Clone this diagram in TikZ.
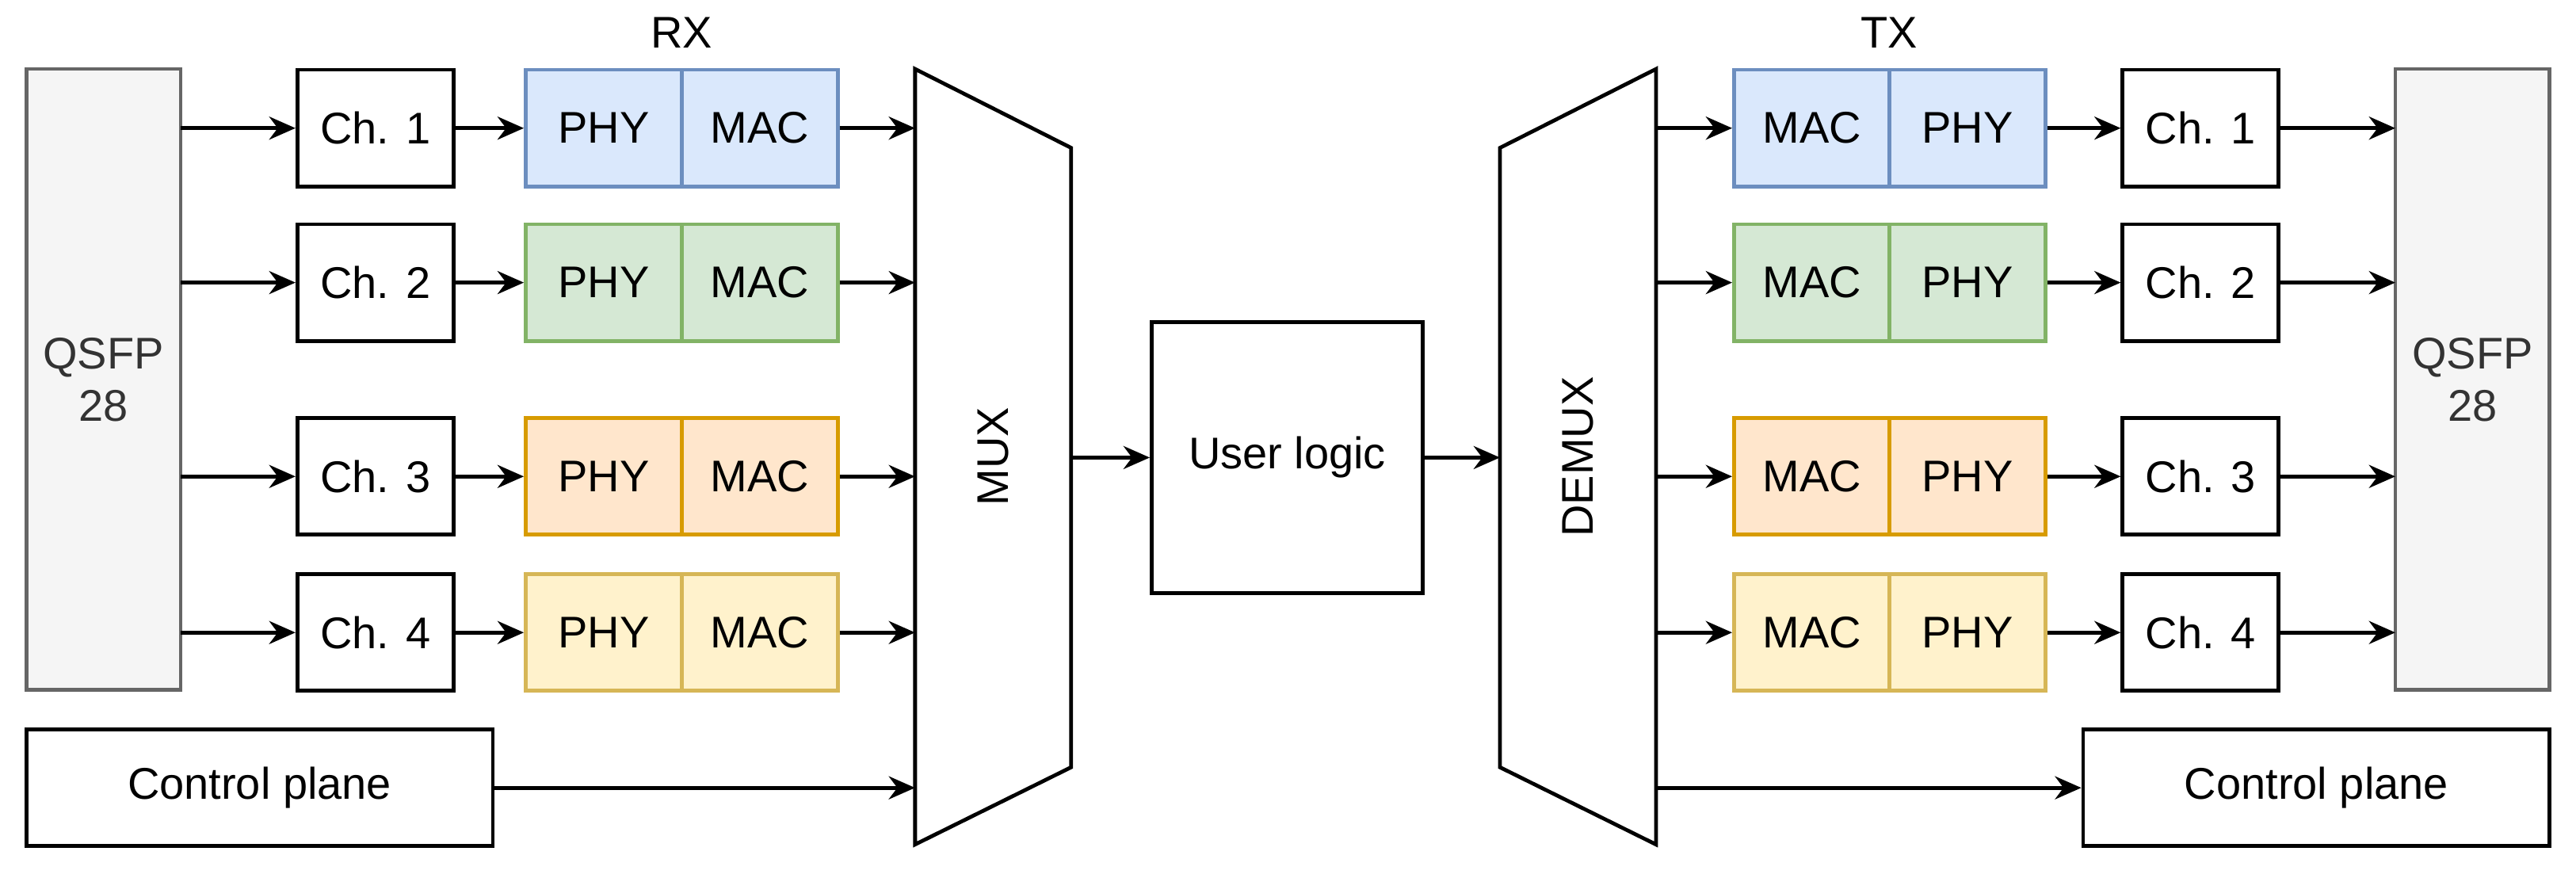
\documentclass[tikz,border=0pt]{standalone}
\usepackage{fontspec}
\setmainfont{Liberation Sans}
\usetikzlibrary{arrows.meta}
\definecolor{qf}{HTML}{F5F5F5}\definecolor{qs}{HTML}{666666}\definecolor{qt}{HTML}{333333}
\definecolor{bf}{HTML}{DAE8FC}\definecolor{bs}{HTML}{6C8EBF}
\definecolor{gf}{HTML}{D5E8D4}\definecolor{gs}{HTML}{82B366}
\definecolor{of}{HTML}{FFE6CC}\definecolor{os}{HTML}{D79B00}
\definecolor{yf}{HTML}{FFF2CC}\definecolor{ys}{HTML}{D6B656}
\begin{document}
\begin{tikzpicture}[x=0.5pt,y=-0.5pt,line width=1.15pt,
  every node/.style={font=\fontsize{13.5}{16}\selectfont},
  box/.style={draw,fill=white,minimum width=47.5pt,minimum height=35.5pt,inner sep=0pt},
  cell/.style={draw,minimum width=47.5pt,minimum height=35.5pt,inner sep=0pt},
  arr/.style={-{Stealth[length=8pt,width=7pt]}}]
\useasboundingbox (0,0) rectangle (1568,534);
% QSFP
\node[draw=qs,fill=qf,text=qt,minimum width=47pt,minimum height=189pt,align=center,inner sep=0pt] (ql) at (63,231) {QSFP\\28};
\node[draw=qs,fill=qf,text=qt,minimum width=47pt,minimum height=189pt,align=center,inner sep=0pt] (qr) at (1505,231) {QSFP\\28};
% MUX / DEMUX
\draw (557,42) -- (652,90) -- (652,467) -- (557,514) -- cycle;
\node[rotate=90] (mux) at (604.5,278) {MUX};
\draw (913,90) -- (1008,42) -- (1008,514) -- (913,467) -- cycle;
\node[rotate=90] (demux) at (960.5,278) {DEMUX};
\node[draw,minimum width=82.5pt,minimum height=82.5pt,inner sep=0pt] (ul) at (783.5,278.5) {User logic};
\node (rx) at (415,20) {RX};
\node (tx) at (1150,20) {TX};
\foreach \i/\y/\f/\s in {1/78/bf/bs,2/172/gf/gs,3/290/of/os,4/385/yf/ys}{
  \node[box] (cl\i) at (228.5,\y) {Ch. \i};
  \node[cell,draw=\s,fill=\f] (pl\i) at (367.5,\y) {PHY};
  \node[cell,draw=\s,fill=\f] (ml\i) at (462.5,\y) {MAC};
  \coordinate (qlo\i) at (110,\y);
  \coordinate (mi\i) at (557,\y);
  \draw[arr] (qlo\i) -- (cl\i);
  \draw[arr] (cl\i) -- (pl\i);
  \draw[arr] (ml\i) -- (mi\i);
  \node[cell,draw=\s,fill=\f] (mr\i) at (1103,\y) {MAC};
  \node[cell,draw=\s,fill=\f] (pr\i) at (1197.5,\y) {PHY};
  \node[box] (cr\i) at (1339.5,\y) {Ch. \i};
  \coordinate (do\i) at (1008,\y);
  \coordinate (qri\i) at (1458,\y);
  \draw[arr] (do\i) -- (mr\i);
  \draw[arr] (pr\i) -- (cr\i);
  \draw[arr] (cr\i) -- (qri\i);
}
\coordinate (muxo) at (652,278.5);
\coordinate (dmi) at (913,278.5);
\draw[arr] (muxo) -- (ul);
\draw[arr] (ul) -- (dmi);
\node[draw,minimum width=142pt,minimum height=35.5pt,inner sep=0pt] (cpl) at (158,479.5) {Control plane};
\node[draw,minimum width=142pt,minimum height=35.5pt,inner sep=0pt] (cpr) at (1410,479.5) {Control plane};
\coordinate (mcp) at (557,479.5);
\coordinate (dcp) at (1008,479.5);
\draw[arr] (cpl) -- (mcp);
\draw[arr] (dcp) -- (cpr);
\end{tikzpicture}
\end{document}
